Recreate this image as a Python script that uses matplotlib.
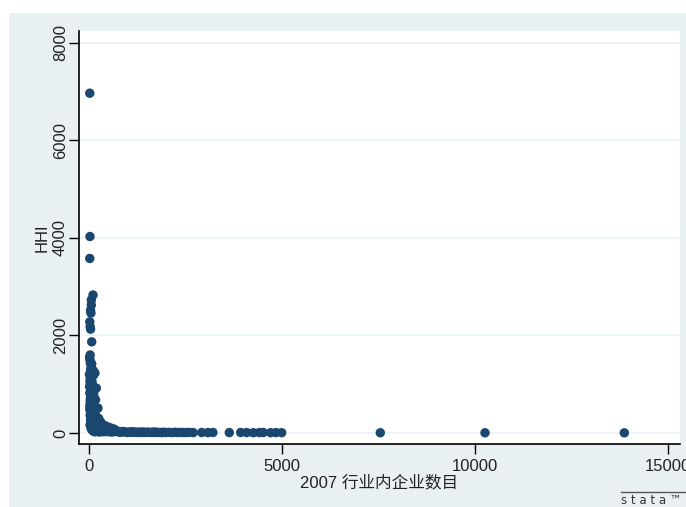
import matplotlib
matplotlib.use("Agg")
import matplotlib.pyplot as plt
from matplotlib.patches import Rectangle
from matplotlib.lines import Line2D

# ---- data ----
firm_counts = [20, 25, 20, 104, 60, 60, 40, 50, 20, 30, 40, 70, 30, 25, 35, 60, 40,
               110, 155, 50, 30, 80, 40, 190, 60, 20, 120, 45, 170, 30, 90, 60, 233,
               20, 140, 50, 100, 30, 180, 70, 250, 40, 120, 300, 60, 200, 350, 30,
               415, 100, 500, 250, 570, 150, 650, 400, 80, 700, 300,
               10, 15, 35, 45, 55, 65, 75, 85, 95, 105, 115, 130, 160, 210, 230, 270,
               280, 320, 340, 380, 450, 520, 600, 620,
               750, 800, 870, 950, 1000, 1080, 1150, 1200, 1280, 1350, 1420, 1480,
               1550, 1600, 1680, 1750, 1800, 1870, 1950, 2000, 2080, 2150, 2230, 2300,
               2380, 2450, 2530, 2600, 2700, 2920, 3080, 3210,
               3635, 3930, 4085, 4256, 4412, 4516, 4707, 4845, 4992,
               7547, 10259, 13868,
               15, 70, 110, 25, 90, 130, 50, 140, 80, 20, 110, 160, 60, 100, 45,
               150, 75, 35, 125, 200, 90, 55, 170, 260, 140, 330, 220, 460, 380, 540,
               680, 840, 920, 1040, 1120, 1240, 1320, 1390, 1520, 1640, 1720, 1900]
hhi = [6970, 4030, 3580, 2830, 2730, 2625, 2520, 2460, 2280, 2180, 2130, 1870, 1600,
       1500, 1430, 1350, 1300, 1280, 1230, 1150, 1100, 1050, 1000, 920, 880, 820, 780,
       740, 680, 640, 600, 560, 510, 480, 450, 420, 400, 370, 340, 320, 300, 280, 260,
       230, 210, 190, 170, 160, 150, 140, 120, 110, 100, 90, 80, 70, 60, 55, 50,
       1200, 950, 700, 540, 380, 250, 180, 130, 90, 60, 40, 30, 25, 45, 35, 20,
       70, 30, 40, 25, 35, 30, 20, 45,
       25, 15, 30, 20, 10, 25, 15, 20, 10, 15, 20, 10,
       15, 10, 20, 15, 10, 12, 15, 10, 12, 8, 15, 10,
       12, 8, 10, 12, 8, 10, 8, 10,
       8, 10, 8, 6, 8, 10, 6, 8, 6,
       5, 4, 3,
       1550, 1420, 1180, 1050, 980, 860, 760, 700, 620, 560, 520, 430, 350, 310, 270,
       240, 200, 180, 160, 120, 110, 95, 85, 70, 60, 40, 35, 30, 50, 25,
       30, 20, 25, 15, 20, 12, 18, 10, 15, 12, 10, 8]

x_ticks = [0, 5000, 10000, 15000]
y_ticks = [0, 2000, 4000, 6000, 8000]
x_label = "2007 行业内企业数目"
y_label = "HHI"

# ---- styling ----
plt.rcParams['font.family'] = ['Liberation Sans', 'Noto Sans CJK SC', 'DejaVu Sans']
BG = "#E9F0F2"
NAVY = "#1A476F"

fig = plt.figure(figsize=(6.86, 5.07), dpi=100, facecolor="white")
fig.patches.append(Rectangle((9 / 686, 0), 1 - 9 / 686, 494 / 507,
                             transform=fig.transFigure, facecolor=BG,
                             edgecolor="none", zorder=-10))

ax = fig.add_axes([79 / 686, 1 - 444 / 507, (680 - 79) / 686, (444 - 31) / 507])
ax.set_facecolor("white")
ax.scatter(firm_counts, hhi, s=46, color=NAVY, edgecolors="none", zorder=3,
           clip_on=False)

ax.set_xlim(-259, 15311)
ax.set_ylim(-226, 8246)
ax.set_xticks(x_ticks)
ax.set_yticks(y_ticks)
ax.set_xticklabels([str(t) for t in x_ticks], fontsize=12)
ax.set_yticklabels([str(t) for t in y_ticks], fontsize=12, rotation=90, va="center")
ax.tick_params(axis="both", direction="out", length=7, width=1, color="black",
               labelcolor="#222222")
ax.tick_params(axis="y", pad=1)
ax.tick_params(axis="x", pad=4)

ax.yaxis.grid(True, color="#EAF2F3", linewidth=1.2, zorder=0)
ax.xaxis.grid(False)
ax.set_axisbelow(True)
for side in ("top", "right"):
    ax.spines[side].set_visible(False)
for side in ("left", "bottom"):
    ax.spines[side].set_linewidth(1.2)
    ax.spines[side].set_color("black")

ax.set_xlabel(x_label, fontsize=12, color="#222222", labelpad=0)
ax.set_ylabel(y_label, fontsize=12, color="#222222", labelpad=2)

# Stata watermark
fig.text(621 / 686, 1 - 501 / 507, "s t a t a ™", fontsize=8.5, color="#333333",
         ha="left", va="center", family=["DejaVu Sans"])
fig.add_artist(Line2D([621 / 686, 1.0], [1 - 492 / 507, 1 - 492 / 507],
                      transform=fig.transFigure, color="#555555", linewidth=1))

fig.savefig("out.png", dpi=100, facecolor="white")
